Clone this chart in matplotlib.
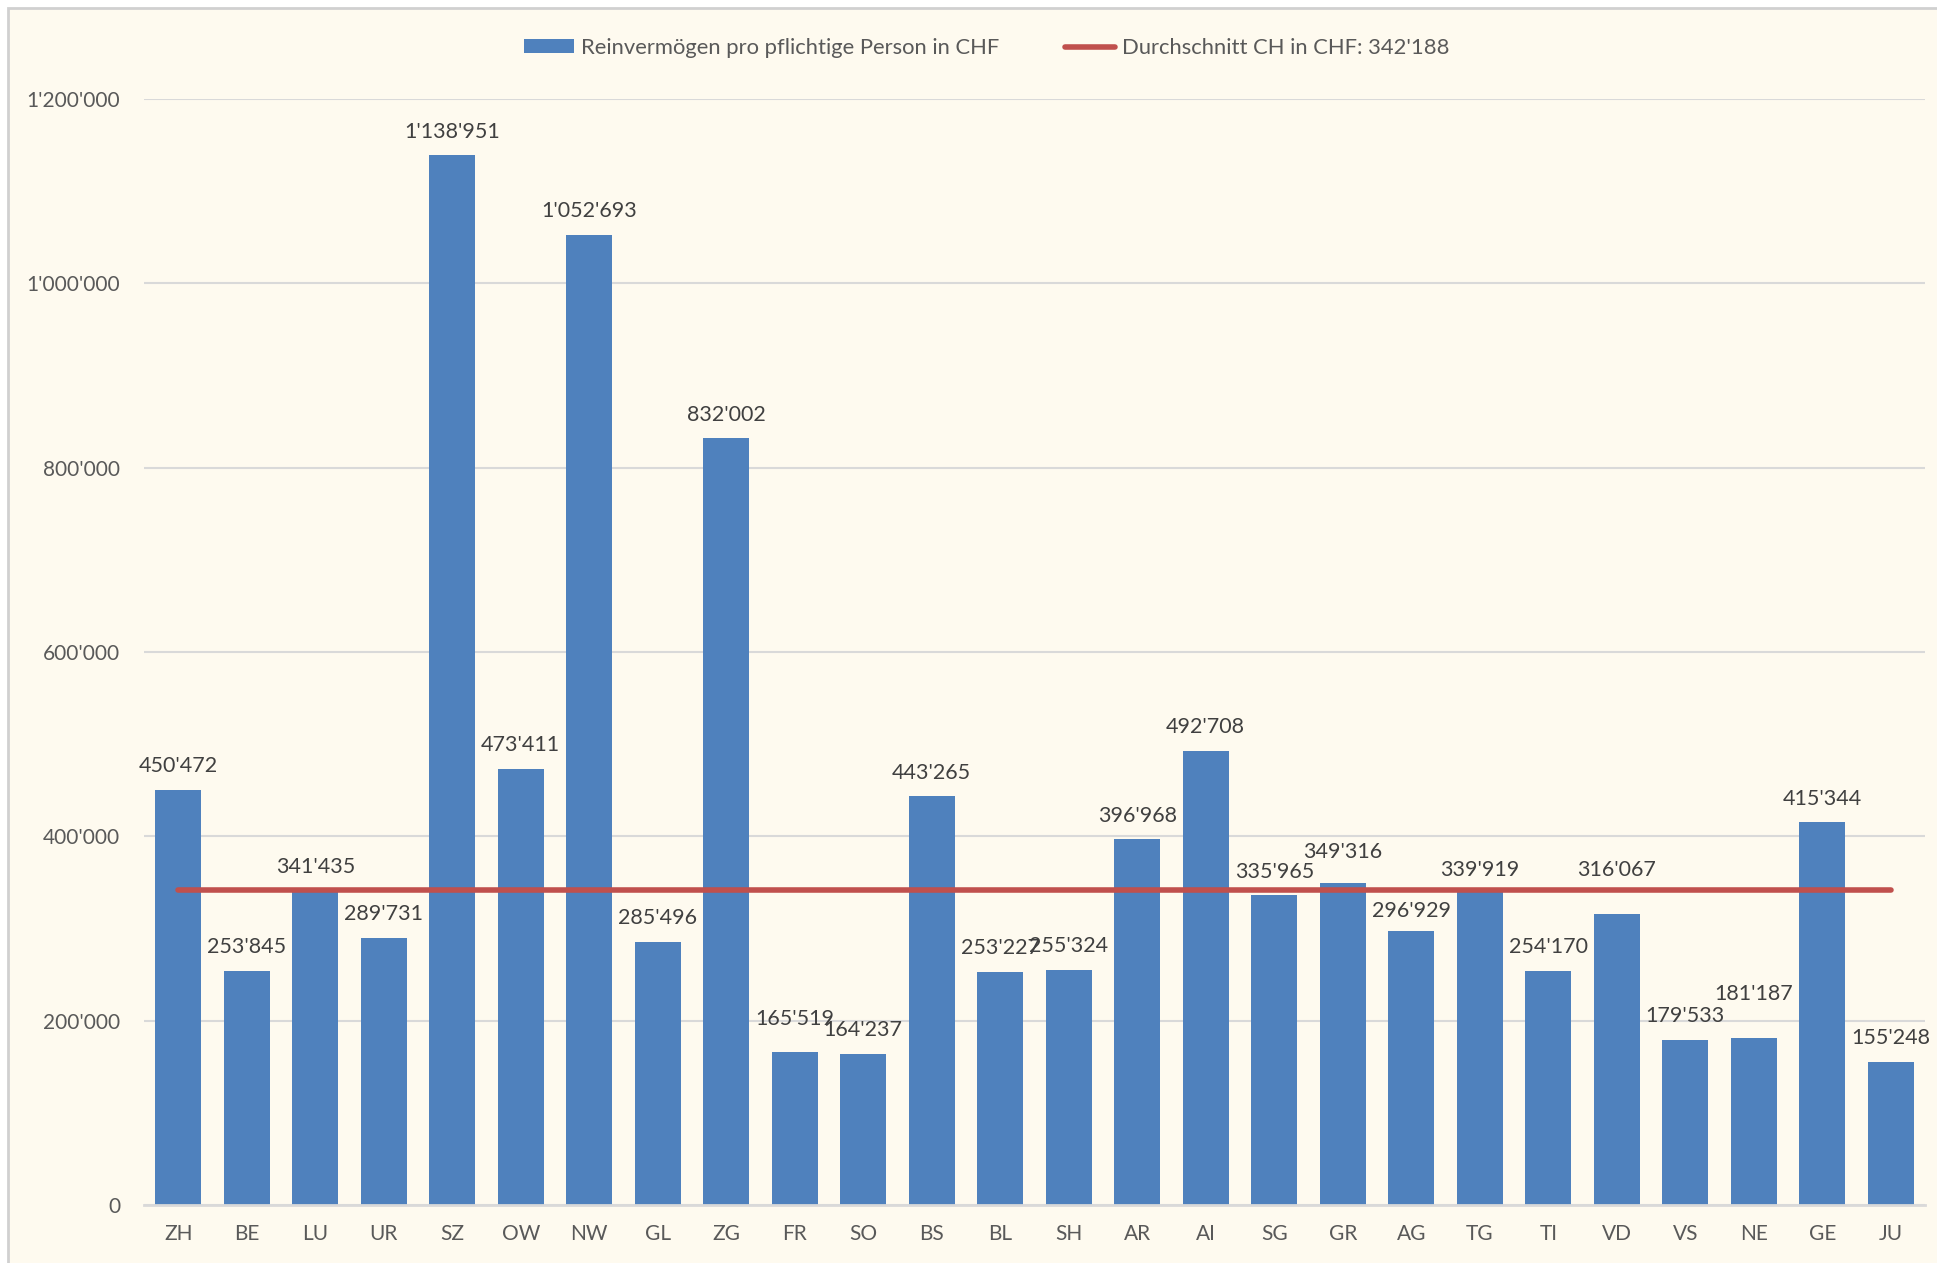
import numpy as np
import matplotlib.pyplot as plt
from matplotlib.patches import Rectangle
from matplotlib.ticker import FuncFormatter

kantone = ['ZH', 'BE', 'LU', 'UR', 'SZ', 'OW', 'NW', 'GL', 'ZG', 'FR', 'SO', 'BS', 'BL',
           'SH', 'AR', 'AI', 'SG', 'GR', 'AG', 'TG', 'TI', 'VD', 'VS', 'NE', 'GE', 'JU']
vermoegen = [450472, 253845, 341435, 289731, 1138951, 473411, 1052693, 285496, 832002,
             165519, 164237, 443265, 253227, 255324, 396968, 492708, 335965, 349316,
             296929, 339919, 254170, 316067, 179533, 181187, 415344, 155248]
durchschnitt = 342188

bar_label = 'Reinvermögen pro pflichtige Person in CHF'
line_label = "Durchschnitt CH in CHF: 342'188"

blau = '#4F81BD'
rot = '#C0504D'
creme = '#FEFAEF'
grau = '#D9D9D9'

# von Hand verschobene Beschriftungen (zusätzlich nach oben, in Pixel)
label_shift = {'FR': 10, 'GR': 7.5, 'AG': -3, 'TG': -2, 'VD': 20.5, 'NE': 20}


def apostroph(v, pos=None):
    return f"{int(round(v)):,}".replace(',', "'")


plt.rcParams['font.family'] = ['Lato', 'DejaVu Sans']

fig = plt.figure(figsize=(19.37, 12.63), dpi=100, facecolor='white')
# creme Hintergrund mit grauem Rand (wie im Excel-Export)
fig.patches.append(Rectangle((8 / 1937, -0.01), 1.01, 1 - 8 / 1263 + 0.01,
                             transform=fig.transFigure, facecolor=creme,
                             edgecolor='#D0D0D0', linewidth=2, zorder=-10))

ax = fig.add_axes([144 / 1937, 58 / 1263, (1925 - 144) / 1937, (1205 - 99) / 1263])
ax.set_facecolor('none')

x = np.arange(len(kantone))
bars = ax.bar(x, vermoegen, width=0.67, color=blau, label=bar_label, zorder=2)
linie, = ax.plot([x[0], x[-1]], [durchschnitt, durchschnitt], color=rot, linewidth=4,
                 solid_capstyle='round', label=line_label, zorder=3)

px = 72 / 100  # Punkte pro Pixel
for k, xi, v in zip(kantone, x, vermoegen):
    dy = (17.6 + label_shift.get(k, 0)) * px
    ax.annotate(apostroph(v), (xi, v), xytext=(0, dy), textcoords='offset points',
                ha='center', va='baseline', fontsize=15.5, color='#404040', zorder=4)

ax.set_xlim(-0.5, len(kantone) - 0.5)
ax.set_ylim(0, 1200000)
ax.set_yticks(np.arange(0, 1200001, 200000))
ax.yaxis.set_major_formatter(FuncFormatter(apostroph))
ax.set_xticks(x)
ax.set_xticklabels(kantone)
ax.tick_params(axis='both', length=0, labelsize=15, labelcolor='#595959')
ax.tick_params(axis='y', pad=17)
ax.tick_params(axis='x', pad=14)
ax.grid(axis='y', color=grau, linewidth=1.5, zorder=0)
ax.set_axisbelow(True)
for s in ['top', 'right', 'left']:
    ax.spines[s].set_visible(False)
ax.spines['bottom'].set_color(grau)
ax.spines['bottom'].set_linewidth(2)

fig.legend(handles=[bars, linie], labels=[bar_label, line_label], loc='center',
           bbox_to_anchor=(0.5096, 1 - 48 / 1263), ncol=2, frameon=False,
           fontsize=15.8, labelcolor='#595959', handlelength=2.25, handleheight=0.6,
           handletextpad=0.35, columnspacing=3.0)

fig.savefig('out.png', dpi=100, facecolor=fig.get_facecolor())
